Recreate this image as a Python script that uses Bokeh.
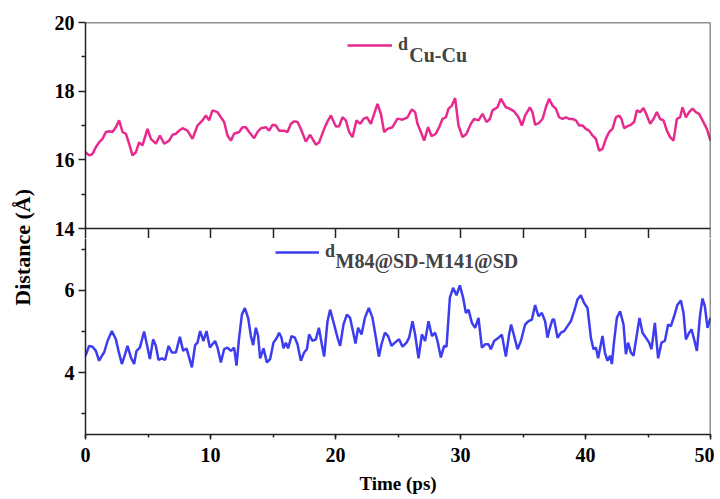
from bokeh.plotting import figure
from bokeh.models import (Range1d, FixedTicker, SingleIntervalTicker, LinearAxis,
                          Legend, LegendItem, Label, Div, Span)
from bokeh.layouts import row, column
from bokeh.embed import file_html
from bokeh.resources import INLINE

# ---------------- data ----------------
time_cu = [0.00, 0.29, 0.56, 0.83, 1.09, 1.36, 1.63, 1.89, 2.16, 2.43, 2.69, 2.96, 3.23, 3.49, 3.76,
           4.03, 4.29, 4.56, 4.96, 5.23, 5.63, 5.95, 6.29, 6.69, 6.96, 7.23, 7.49, 7.76, 8.16, 8.56,
           8.96, 9.36, 9.63, 9.89, 10.16, 10.56, 10.83, 11.09, 11.36, 11.63, 11.89, 12.29, 12.56,
           12.83, 13.09, 13.49, 13.76, 14.03, 14.43, 14.69, 14.96, 15.23, 15.49, 15.89, 16.16, 16.43,
           16.69, 16.96, 17.23, 17.63, 17.97, 18.43, 18.69, 19.09, 19.36, 19.63, 20.03, 20.29, 20.56,
           20.83, 21.09, 21.36, 21.68, 21.97, 22.24, 22.51, 22.83, 23.09, 23.36, 23.63, 23.89, 24.16,
           24.56, 24.96, 25.36, 25.76, 26.11, 26.37, 26.56, 26.83, 27.09, 27.41, 27.68, 28.03, 28.29,
           28.56, 28.83, 29.04, 29.31, 29.57, 29.84, 30.16, 30.48, 30.83, 31.09, 31.44, 31.76, 32.08,
           32.35, 32.56, 32.96, 33.23, 33.63, 33.89, 34.29, 34.64, 34.91, 35.17, 35.55, 35.76, 35.97,
           36.29, 36.56, 36.83, 37.09, 37.36, 37.63, 37.89, 38.16, 38.43, 38.69, 38.96, 39.23, 39.49,
           39.76, 40.03, 40.29, 40.56, 40.83, 41.09, 41.36, 41.63, 41.89, 42.16, 42.43, 42.69, 42.88,
           43.09, 43.36, 43.63, 43.89, 44.11, 44.37, 44.64, 44.91, 45.17, 45.44, 45.71, 45.97, 46.24,
           46.51, 46.77, 47.04, 47.31, 47.57, 47.76, 48.03, 48.29, 48.56, 48.83, 49.09, 49.36, 49.71,
           50.00]
dist_cu = [16.22, 16.13, 16.17, 16.37, 16.51, 16.61, 16.81, 16.83, 16.81, 16.95, 17.15, 16.81, 16.76,
           16.47, 16.13, 16.22, 16.51, 16.42, 16.90, 16.61, 16.47, 16.71, 16.47, 16.56, 16.73, 16.76,
           16.85, 16.92, 16.85, 16.61, 17.00, 17.15, 17.29, 17.15, 17.44, 17.39, 17.24, 17.10, 16.71,
           16.56, 16.76, 16.81, 16.95, 16.95, 16.81, 16.63, 16.81, 16.92, 16.95, 16.85, 17.02, 17.00,
           16.85, 16.85, 16.81, 17.05, 17.12, 17.10, 16.90, 16.53, 16.73, 16.44, 16.51, 16.90, 17.12,
           17.29, 16.97, 16.98, 17.24, 17.15, 16.81, 16.66, 17.15, 17.05, 17.19, 17.24, 17.05, 17.34,
           17.63, 17.34, 16.81, 16.90, 16.95, 17.20, 17.17, 17.24, 17.47, 17.39, 17.05, 16.81, 16.56,
           16.95, 16.69, 16.76, 16.95, 17.19, 17.24, 17.49, 17.58, 17.80, 17.00, 16.66, 16.76, 17.05,
           17.19, 17.15, 17.34, 17.10, 17.19, 17.44, 17.53, 17.78, 17.53, 17.50, 17.41, 17.24, 17.00,
           17.29, 17.53, 17.39, 17.02, 17.08, 17.19, 17.53, 17.78, 17.58, 17.49, 17.24, 17.19, 17.24,
           17.19, 17.19, 17.15, 17.00, 17.00, 16.90, 16.85, 16.71, 16.61, 16.27, 16.32, 16.61, 16.81,
           16.90, 17.24, 17.29, 17.19, 16.92, 16.98, 17.02, 17.10, 17.44, 17.39, 17.51, 17.29, 17.05,
           17.19, 17.39, 17.19, 17.15, 16.85, 16.66, 16.56, 17.19, 17.24, 17.53, 17.24, 17.39, 17.49,
           17.39, 17.34, 17.15, 16.90, 16.56]

time_sd = [0.00, 0.29, 0.56, 0.83, 1.09, 1.31, 1.49, 1.76, 2.11, 2.43, 2.64, 2.91, 3.17, 3.36, 3.63,
           3.89, 4.08, 4.35, 4.69, 4.96, 5.15, 5.41, 5.63, 5.84, 6.11, 6.37, 6.64, 6.91, 7.23, 7.55,
           7.81, 8.08, 8.29, 8.51, 8.77, 8.96, 9.17, 9.44, 9.68, 9.95, 10.16, 10.37, 10.56, 10.83,
           11.09, 11.36, 11.63, 11.89, 12.08, 12.29, 12.51, 12.75, 13.01, 13.23, 13.41, 13.63, 13.81,
           13.97, 14.24, 14.51, 14.77, 15.04, 15.31, 15.49, 15.68, 15.84, 16.03, 16.21, 16.48, 16.75,
           16.96, 17.23, 17.49, 17.71, 17.89, 18.16, 18.43, 18.67, 18.88, 19.09, 19.36, 19.57, 19.89,
           20.16, 20.37, 20.64, 20.91, 21.17, 21.39, 21.60, 21.81, 22.08, 22.35, 22.67, 22.96, 23.23,
           23.47, 23.68, 23.95, 24.21, 24.48, 24.75, 25.09, 25.36, 25.68, 25.89, 26.16, 26.37, 26.64,
           26.91, 27.17, 27.44, 27.71, 27.97, 28.16, 28.43, 28.69, 28.88, 29.15, 29.41, 29.68, 29.95,
           30.21, 30.43, 30.64, 30.91, 31.17, 31.44, 31.71, 31.97, 32.24, 32.43, 32.69, 33.04, 33.31,
           33.63, 33.89, 34.05, 34.29, 34.56, 34.83, 35.17, 35.44, 35.71, 35.97, 36.24, 36.51, 36.77,
           36.96, 37.15, 37.36, 37.49, 37.76, 38.03, 38.29, 38.56, 38.83, 39.09, 39.36, 39.63, 39.89,
           40.16, 40.43, 40.64, 40.83, 41.01, 41.23, 41.36, 41.55, 41.76, 41.97, 42.11, 42.29, 42.51,
           42.77, 43.04, 43.23, 43.41, 43.63, 43.84, 44.11, 44.32, 44.56, 44.83, 45.09, 45.28, 45.55,
           45.81, 46.08, 46.35, 46.61, 46.83, 47.09, 47.36, 47.63, 47.84, 48.03, 48.29, 48.48, 48.69,
           48.91, 49.17, 49.36, 49.55, 49.76, 50.00]
dist_sd = [4.41, 4.65, 4.63, 4.53, 4.29, 4.41, 4.49, 4.77, 5.01, 4.81, 4.53, 4.21, 4.45, 4.65, 4.37,
           4.21, 4.53, 4.61, 5.00, 4.61, 4.33, 4.81, 4.65, 4.31, 4.35, 4.31, 4.65, 4.49, 4.49, 4.87,
           4.53, 4.59, 4.37, 4.13, 4.67, 4.73, 5.01, 4.77, 5.01, 4.61, 4.69, 4.77, 4.61, 4.25, 4.57,
           4.61, 4.53, 4.61, 4.17, 4.85, 5.41, 5.57, 5.33, 4.89, 4.67, 5.09, 4.89, 4.35, 4.59, 4.25,
           4.33, 4.73, 4.85, 4.97, 4.85, 4.59, 4.73, 4.59, 4.89, 4.85, 4.69, 4.29, 4.49, 4.57, 4.93,
           4.77, 4.81, 5.09, 4.73, 4.39, 5.25, 5.53, 5.17, 4.85, 4.65, 5.17, 5.41, 5.33, 5.01, 4.71,
           5.09, 4.93, 5.33, 5.57, 5.33, 4.85, 4.39, 4.69, 4.97, 4.89, 4.65, 4.73, 4.81, 4.63, 4.73,
           4.85, 5.25, 4.93, 4.35, 4.93, 4.77, 5.25, 4.89, 4.97, 4.77, 4.37, 4.65, 4.63, 5.82, 6.06,
           5.88, 6.12, 5.82, 5.45, 5.53, 5.21, 5.09, 5.33, 4.61, 4.69, 4.69, 4.57, 4.77, 4.85, 4.92,
           4.39, 4.93, 5.17, 4.89, 4.57, 4.77, 5.17, 5.25, 5.29, 5.64, 5.37, 5.45, 5.25, 4.85, 5.09,
           5.29, 5.29, 4.85, 4.97, 5.01, 5.13, 5.25, 5.49, 5.78, 5.88, 5.69, 5.57, 4.85, 4.57, 4.61,
           4.35, 4.69, 4.89, 4.49, 4.29, 4.41, 4.21, 4.77, 5.33, 5.49, 5.17, 4.45, 4.73, 4.49, 4.41,
           4.93, 5.33, 4.97, 4.85, 4.73, 4.57, 5.21, 4.35, 4.73, 4.77, 5.17, 5.13, 5.37, 5.65, 5.75,
           5.45, 4.81, 4.97, 5.05, 4.81, 4.53, 5.41, 5.80, 5.61, 5.09, 5.33]

top_ticks = [14, 16, 18, 20]
top_minor = [15, 17, 19]
bot_ticks = [4, 6]
bot_minor = [3, 5, 7]
x_inner_ticks = [5, 10, 15, 20, 25, 30, 35, 40, 45]
label_cu = "Cu-Cu"
label_sd = "M84@SD-M141@SD"
x_min, x_max = 0, 50
top_min, top_max = 14, 20
bot_min, bot_max = 2.5, 7.5

# ---------------- styling ----------------
FONT = "Liberation Serif"
AX = "#222222"
PINK = "#E8298D"
BLUE = "#3D3DF0"
PANEL_H = 206          # pixel height of each panel
EXT = 10               # pixels of the lower panel drawn inside the upper canvas
BORDER_L = 39

x_range = Range1d(x_min, x_max)
px_top = PANEL_H / (top_max - top_min)
px_bot = PANEL_H / (bot_max - bot_min)


def style_axis_lines(ax):
    ax.major_tick_line_width = 1.5
    ax.minor_tick_line_width = 1.5
    ax.major_tick_line_color = AX
    ax.minor_tick_line_color = AX
    ax.axis_line_color = AX
    ax.axis_line_width = 1.5


def style_left(ax, ticks, minor):
    ax.ticker = FixedTicker(ticks=ticks, minor_ticks=minor)
    ax.major_tick_out = 7
    ax.major_tick_in = 0
    ax.minor_tick_out = 4
    ax.minor_tick_in = 0
    style_axis_lines(ax)
    ax.major_label_text_font = FONT
    ax.major_label_text_font_style = "bold"
    ax.major_label_text_font_size = "20px"
    ax.major_label_text_color = "black"
    ax.major_label_standoff = 4


def edge(loc, dim):
    return Span(location=loc, dimension=dim, line_color=AX, line_width=1.5)


# ---------------- top panel ----------------
p1 = figure(frame_width=625, frame_height=PANEL_H + EXT, x_range=x_range,
            y_range=Range1d(top_min - EXT / px_top, top_max),
            x_axis_location=None, output_backend="svg", toolbar_location=None,
            min_border_left=BORDER_L, min_border_right=4, min_border_top=22, min_border_bottom=0)
p1.grid.visible = False
p1.outline_line_color = None
style_left(p1.yaxis[0], top_ticks, top_minor)

# ticks hanging from the panel divider (top ticks of the lower panel)
inner = LinearAxis(ticker=FixedTicker(ticks=[], minor_ticks=x_inner_ticks),
                   major_tick_in=EXT, major_tick_out=0, minor_tick_in=EXT, minor_tick_out=0,
                   major_label_standoff=0, axis_label_standoff=0)
style_axis_lines(inner)
inner.axis_line_color = None
p1.add_layout(inner, "below")

p1.add_layout(edge(top_max, "width"))
p1.add_layout(edge(top_min, "width"))
p1.add_layout(edge(x_max, "height"))

r1 = p1.line(time_cu, dist_cu, line_color=PINK, line_width=2.5)
leg1 = Legend(items=[LegendItem(label="d", renderers=[r1])], location=(262, 183),
              border_line_color=None, background_fill_alpha=0, padding=0, margin=0,
              glyph_width=45, glyph_height=14, label_height=20, label_standoff=6,
              label_text_font=FONT, label_text_font_style="bold", label_text_font_size="18px")
p1.add_layout(leg1)
p1.add_layout(Label(x=25.9, y=19.04, text=label_cu, text_font=FONT, text_font_style="bold",
                    text_font_size="20px", text_baseline="alphabetic"))

# ---------------- bottom panel ----------------
p2 = figure(frame_width=625, frame_height=PANEL_H - EXT, x_range=x_range,
            y_range=Range1d(bot_min, bot_max - EXT / px_bot),
            output_backend="svg", toolbar_location=None,
            min_border_left=BORDER_L, min_border_right=4, min_border_top=0, min_border_bottom=0)
p2.grid.visible = False
p2.outline_line_color = None
style_left(p2.yaxis[0], bot_ticks, bot_minor)
p2.add_layout(edge(x_max, "height"))

xa = p2.xaxis[0]
xa.ticker = SingleIntervalTicker(interval=10, num_minor_ticks=2)
xa.major_tick_out = 5
xa.major_tick_in = 0
xa.minor_tick_out = 3
xa.minor_tick_in = 0
style_axis_lines(xa)
xa.major_label_text_font = FONT
xa.major_label_text_font_style = "bold"
xa.major_label_text_font_size = "20px"
xa.major_label_text_color = "black"
xa.major_label_standoff = 8
xa.axis_label = "Time (ps)"
xa.axis_label_text_font = FONT
xa.axis_label_text_font_style = "bold"
xa.axis_label_text_font_size = "19px"
xa.axis_label_text_color = "black"
xa.axis_label_standoff = 8

r2 = p2.line(time_sd, dist_sd, line_color=BLUE, line_width=2.5)
leg2 = Legend(items=[LegendItem(label="d", renderers=[r2])], location=(190, 172),
              border_line_color=None, background_fill_alpha=0, padding=0, margin=0,
              glyph_width=44, glyph_height=14, label_height=20, label_standoff=6,
              label_text_font=FONT, label_text_font_style="bold", label_text_font_size="18px")
p2.add_layout(leg2)
p2.add_layout(Label(x=20.0, y=6.70, text=label_sd, text_font=FONT, text_font_style="bold",
                    text_font_size="20px", text_baseline="alphabetic"))

# ---------------- shared y-axis title ----------------
ylabel = Div(
    text=('<div style="width:36px;height:484px;display:flex;align-items:center;'
          'justify-content:center;">'
          '<span style="writing-mode:vertical-rl;transform:rotate(180deg);'
          "font-family:'Liberation Serif';font-weight:bold;font-size:22px;"
          'white-space:nowrap;color:black;">Distance (Å)</span></div>'),
    width=36, height=484)

layout = row(ylabel, column(p1, p2))

open("out.html", "w").write(file_html(layout, INLINE))
